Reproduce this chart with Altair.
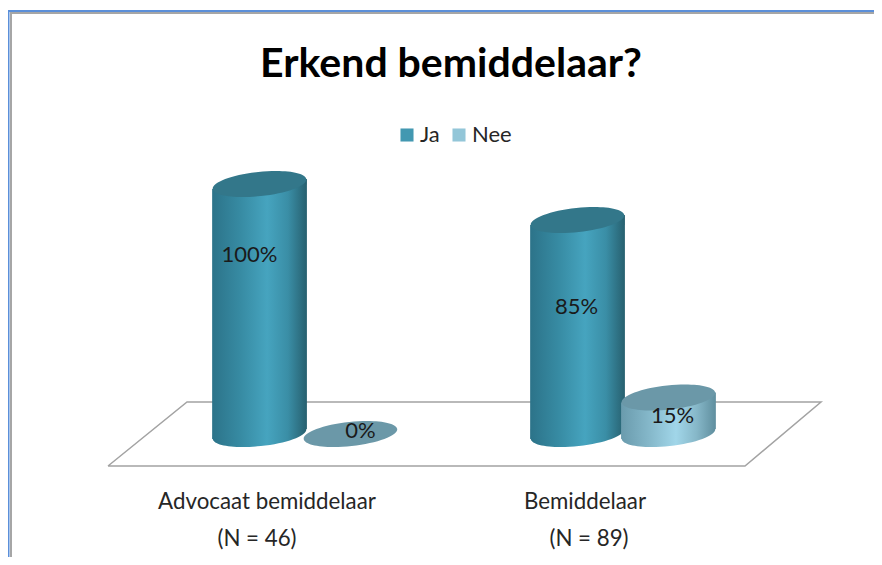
import math
import altair as alt
import pandas as pd

title_text = "Erkend bemiddelaar?"
series = ["Ja", "Nee"]
legend_colors = ["#4298b1", "#93c6d8"]
group_index = [0, 1]
group_labels = ["Advocaat bemiddelaar", "Bemiddelaar"]
group_counts = ["(N = 46)", "(N = 89)"]
ja_values = [100, 85.6]
nee_values = [0, 14.6]
value_labels_ja = ["100%", "85%"]
value_labels_nee = ["0%", "15%"]
ja_label_height = [71.6, 51]
nee_label_height = [1.2, 7.2]
ja_label_shift = [-10, -1]
nee_label_shift = [10, 4]
floor_x = [-0.6195, 1.3836, 1.6226, -0.371, -0.6195]
floor_y = [-12.8, -12.8, 12.8, 12.8, -12.8]

DODGE = 0.143
HALF = 0.149
TILT = 2.0
W, H = 866, 549
x_scale = alt.Scale(domain=[-297 / 318, (W - 297) / 318], range=[0, W], nice=False, zero=False)
y_scale = alt.Scale(domain=[(426 - H) / 2.5, 426 / 2.5], range=[H, 0], nice=False, zero=False)
X = lambda f: alt.X(f, type="quantitative", scale=x_scale, axis=None)
Y = lambda f: alt.Y(f, type="quantitative", scale=y_scale, axis=None)


def ellipse_path(a=0.99, b=0.255, deg=-6.0):
    th = math.radians(deg)
    k = 0.5523
    def pt(c, s):
        return (a * c * math.cos(th) - b * s * math.sin(th), a * c * math.sin(th) + b * s * math.cos(th))
    seq = [(1, 0), (0, 1), (-1, 0), (0, -1), (1, 0)]
    p = pt(*seq[0])
    d = f"M{p[0]:.4f},{p[1]:.4f}"
    for (c0, s0), (c1, s1) in zip(seq, seq[1:]):
        c_1 = pt(c0 + k * c1, s0 + k * s1)
        c_2 = pt(c1 + k * c0, s1 + k * s0)
        e = pt(c1, s1)
        d += f"C{c_1[0]:.4f},{c_1[1]:.4f} {c_2[0]:.4f},{c_2[1]:.4f} {e[0]:.4f},{e[1]:.4f}"
    return d + "Z"


SHAPE = ellipse_path()
SIZE = 9025


def grad(stops):
    return alt.Gradient(
        gradient="linear", x1=0, x2=1, y1=0, y2=0,
        stops=[alt.GradientStop(offset=o, color=c) for o, c in stops],
    )


ja_grad = grad([(0, "#2c7389"), (0.3, "#378ba3"), (0.58, "#46a4bf"), (0.8, "#3a8ea6"), (1, "#27606f")])
nee_grad = grad([(0, "#6a9bad"), (0.3, "#85b8ca"), (0.58, "#a1d6e9"), (0.8, "#86b7c8"), (1, "#5f8e9e")])


def cylinder(values, offset, body_fill, top_fill):
    centres = pd.DataFrame({"g": group_index, "v": values})
    centres["x"] = centres["g"] + offset
    centres["base"] = 0
    rows = []
    for g, v in zip(group_index, values):
        rows.append({"g": g, "x": g + offset - HALF, "top": v - TILT, "bot": -TILT})
        rows.append({"g": g, "x": g + offset + HALF, "top": v + TILT, "bot": TILT})
    body = pd.DataFrame(rows)
    out = []
    for g in group_index:
        c = centres[centres.g == g]
        if c.v.iloc[0] > 0:
            out.append(alt.Chart(c).mark_point(shape=SHAPE, size=SIZE, filled=True, fill=body_fill, opacity=1, strokeWidth=0)
                       .encode(x=X("x"), y=Y("base")))
            out.append(alt.Chart(body[body.g == g]).mark_area(fill=body_fill, interpolate="linear", opacity=1)
                       .encode(x=X("x"), y=Y("top"), y2=alt.Y2("bot")))
        out.append(alt.Chart(c).mark_point(shape=SHAPE, size=SIZE, filled=True, fill=top_fill, opacity=1, strokeWidth=0)
                   .encode(x=X("x"), y=Y("v")))
    return out


floor = alt.Chart(pd.DataFrame({"x": floor_x, "y": floor_y, "o": list(range(len(floor_x)))})).mark_line(
    color="#a3a3a3", strokeWidth=1.5
).encode(x=X("x"), y=Y("y"), order="o:Q")

legend_layer = alt.Chart(pd.DataFrame({"s": series, "x": [0, 0], "y": [0, 0]})).mark_square(size=0).encode(
    x=X("x"), y=Y("y"),
    color=alt.Color("s:N", scale=alt.Scale(domain=series, range=legend_colors), legend=alt.Legend(
        orient="none", legendX=388, legendY=116, direction="horizontal", title=None,
        symbolType="square", symbolSize=170, symbolOpacity=1, symbolStrokeWidth=0,
        labelFont="Lato", labelFontSize=22, labelColor="#262626", columnPadding=8, labelOffset=2,
    )),
)

value_text = []
for vals, off, heights, shifts, texts in [
    (group_index, -DODGE, ja_label_height, ja_label_shift, value_labels_ja),
    (group_index, DODGE, nee_label_height, nee_label_shift, value_labels_nee),
]:
    for g, h, s, t in zip(vals, heights, shifts, texts):
        df = pd.DataFrame({"x": [g + off], "y": [h], "t": [t]})
        value_text.append(
            alt.Chart(df).mark_text(font="Lato", fontSize=22, color="#1a1a1a", dx=s, baseline="middle")
            .encode(x=X("x"), y=Y("y"), text="t:N")
        )

cat_df = pd.DataFrame({"g": group_index, "a": group_labels, "b": group_counts})
LABEL = dict(font="Lato", fontSize=22.3, color="#262626", baseline="alphabetic")
cat_text = [
    alt.Chart(cat_df.iloc[[0]]).mark_text(dx=-38, **LABEL).encode(x=X("g"), y=alt.value(501), text="a:N"),
    alt.Chart(cat_df.iloc[[1]]).mark_text(dx=-38, **LABEL).encode(x=X("g"), y=alt.value(501), text="a:N"),
    alt.Chart(cat_df.iloc[[0]]).mark_text(dx=-48, **LABEL).encode(x=X("g"), y=alt.value(538), text="b:N"),
    alt.Chart(cat_df.iloc[[1]]).mark_text(dx=-34, **LABEL).encode(x=X("g"), y=alt.value(538), text="b:N"),
]

border = [
    alt.Chart(pd.DataFrame({"a": [0]})).mark_rule(color=c, strokeWidth=2).encode(x=alt.value(p), y=alt.value(q), y2=alt.value(H))
    for c, p, q in [("#5b8fd9", 0.5, 2), ("#a6a6a6", 3, 4)]
] + [
    alt.Chart(pd.DataFrame({"a": [0]})).mark_rule(color=c, strokeWidth=2).encode(y=alt.value(p), x=alt.value(q), x2=alt.value(W))
    for c, p, q in [("#5b8fd9", 3, 0), ("#a6a6a6", 5, 2)]
]

layers = border + [floor]
layers += cylinder(ja_values, -DODGE, ja_grad, "#33778a")
layers += cylinder(nee_values, DODGE, nee_grad, "#6b98a8")
layers += value_text + cat_text + [legend_layer]

chart = alt.layer(*layers).properties(
    width=W, height=H, padding=0, autosize=alt.AutoSizeParams(type="none"), background="#ffffff",
    title=alt.TitleParams(title_text, font="Lato", fontSize=41, fontWeight="bold", color="#000000",
                          anchor="middle", frame="group", offset=0, dy=78, dx=10),
).configure_view(stroke=None)

chart.save("out.html", embed_options={"renderer": "svg", "actions": False})
